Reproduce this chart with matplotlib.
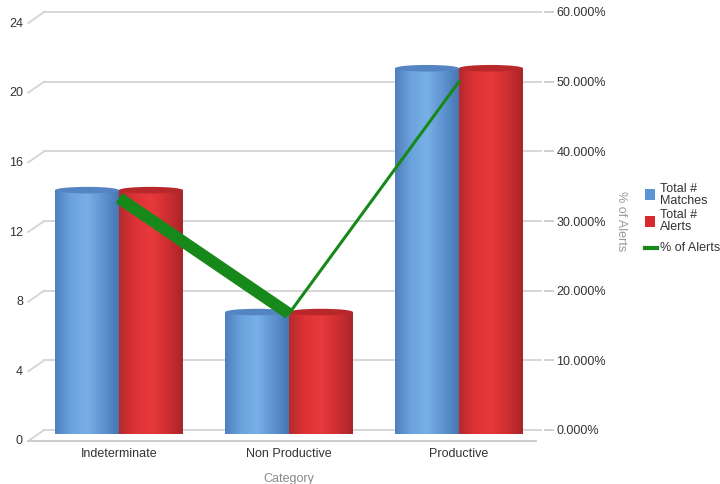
import numpy as np
import matplotlib
matplotlib.use("Agg")
import matplotlib.pyplot as plt
from matplotlib.patches import Ellipse, Rectangle
from matplotlib.colors import LinearSegmentedColormap
from matplotlib.lines import Line2D
import matplotlib.transforms as mtransforms

plt.rcParams['font.family'] = ['Liberation Sans', 'DejaVu Sans']

categories = ["Indeterminate", "Non Productive", "Productive"]
total_matches = [14, 7, 21]
total_alerts = [14, 7, 21]
pct_alerts = [33.3, 16.7, 50.0]
left_ticks = [0, 4, 8, 12, 16, 20, 24]
right_ticks = [0, 10, 20, 30, 40, 50, 60]
legend_labels = ["Total #\nMatches", "Total #\nAlerts", "% of Alerts"]

fig = plt.figure(figsize=(7.2, 4.84), dpi=100)
ax = fig.add_axes([34/720, 1-430/484, 510/720, 418/484])
ax.set_xlim(-0.5, 2.5)
ax.set_ylim(0, 24)

grid_c = '#d4d4d4'
txt_c = '#333333'
gx0 = 0.02
dx = 16/510
ytrans = mtransforms.blended_transform_factory(ax.transAxes, ax.transData)
for t in left_ticks:
    ax.plot([gx0, 0.995], [t, t], transform=ytrans, color=grid_c, lw=1.3, zorder=0, clip_on=False)
    xb = ax.transAxes.transform((gx0, 0))[0]
    xf = ax.transAxes.transform((gx0 - dx, 0))[0]
    yb = ax.transData.transform((0, t))[1]
    fig.lines.append(Line2D([xb, xf], [yb, yb - 11], transform=None, color=grid_c, lw=1.3, zorder=0))
# floor front line
xf0 = ax.transAxes.transform((gx0 - dx, 0))[0]
xf1 = ax.transAxes.transform((0.985, 0))[0]
y0p = ax.transData.transform((0, 0))[1] - 11
fig.lines.append(Line2D([xf0, xf1], [y0p, y0p], transform=None, color='#c8c8c8', lw=1.3))

ax.set_yticks(left_ticks)
ax.set_yticklabels([str(t) for t in left_ticks], fontsize=9, color=txt_c)
ax.tick_params(axis='y', length=0, pad=8)
for lab in ax.get_yticklabels():
    lab.set_transform(lab.get_transform() + mtransforms.ScaledTranslation(0, -10/100, fig.dpi_scale_trans))
ax.set_xticks(range(len(categories)))
ax.set_xticklabels(categories, fontsize=9, color=txt_c)
ax.tick_params(axis='x', length=0, pad=13)
ax.set_xlabel("Category", fontsize=9, color='#888888', labelpad=9)
for s in ax.spines.values():
    s.set_visible(False)

bw = 0.376
blue_cmap = LinearSegmentedColormap.from_list('b', ['#4f7fbd', '#6aa3dd', '#78b0e6', '#5f94d0', '#4676b3'])
red_cmap = LinearSegmentedColormap.from_list('r', ['#b52a2c', '#dd3236', '#e8393c', '#cf2f32', '#a82528'])
grad = np.linspace(0, 1, 256).reshape(1, -1)
cap_h = 0.38
shift = ax.transData + mtransforms.ScaledTranslation(0, -4/100, fig.dpi_scale_trans)

def cylinder(xc, h, cmap, top_c, bot_c):
    x0, x1 = xc - bw/2, xc + bw/2
    ax.add_patch(Ellipse((xc, 0), bw, cap_h, facecolor=bot_c, edgecolor='none', zorder=2, transform=shift))
    im = ax.imshow(grad, extent=[x0, x1, 0, h], aspect='auto', cmap=cmap, zorder=3, interpolation='bilinear')
    im.set_transform(shift)
    im.set_clip_on(False)
    ax.add_patch(Ellipse((xc, h), bw, cap_h, facecolor=top_c, edgecolor='none', zorder=4, transform=shift))

for i in range(len(categories)):
    cylinder(i - bw/2, total_matches[i], blue_cmap, '#5584c2', '#5a8dc9')
    cylinder(i + bw/2, total_alerts[i], red_cmap, '#b8282b', '#c52c2f')
ax.set_xlim(-0.5, 2.5)
ax.set_ylim(0, 24)

ax2 = ax.twinx()
ax2.set_ylim(0, 60)
ax2.set_yticks(right_ticks)
ax2.set_yticklabels([f"{t:.3f}%" for t in right_ticks], fontsize=9, color=txt_c)
ax2.tick_params(axis='y', length=7, color='#c8c8c8', pad=2, width=1.2)
for s in ax2.spines.values():
    s.set_visible(False)
ax2.set_ylabel("% of Alerts", fontsize=9, color='#999999', rotation=270, labelpad=15)

green = '#17891a'
xs = np.arange(len(categories))
ax2.plot(xs[:2], pct_alerts[:2], color=green, lw=8.5, solid_capstyle='butt', zorder=5)
ax2.plot(xs[1:], pct_alerts[1:], color=green, lw=2.2, zorder=5)

# legend (manual, in pixel positions)
H = 484
leg_colors = ['#5b95d3', '#d8292f', green]
centers = [195, 221, 248]
for k, (lab, c, yc) in enumerate(zip(legend_labels, leg_colors, centers)):
    if k < 2:
        fig.patches.append(Rectangle((645/720, 1-(yc+5.5)/H), 10/720, 11/H, transform=fig.transFigure,
                                     facecolor=c, edgecolor='none'))
    else:
        fig.lines.append(Line2D([645/720, 657/720], [1-yc/H, 1-yc/H], transform=fig.transFigure,
                                color=c, lw=3))
    fig.text(660/720, 1-yc/H, lab, fontsize=9, color=txt_c, va='center', ha='left', linespacing=0.95)

fig.savefig("out.png", dpi=100)
